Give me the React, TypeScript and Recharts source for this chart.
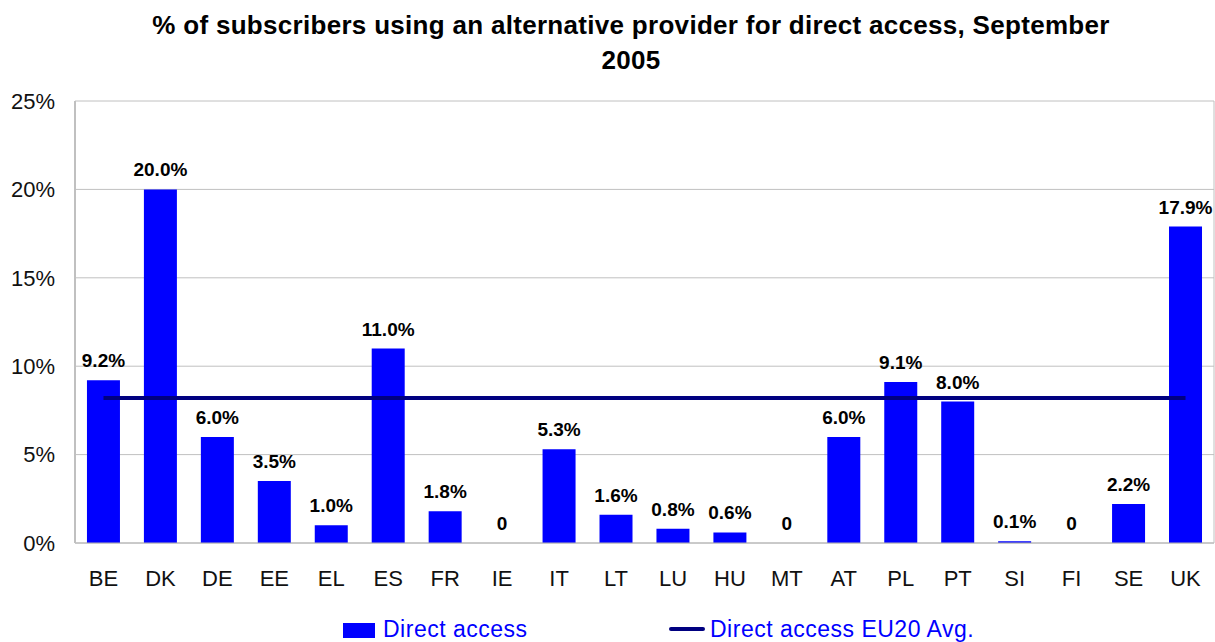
import React from 'react';
import {
  ComposedChart,
  Bar,
  Line,
  XAxis,
  YAxis,
  CartesianGrid,
  LabelList,
} from 'recharts';

const countries = ['BE', 'DK', 'DE', 'EE', 'EL', 'ES', 'FR', 'IE', 'IT', 'LT', 'LU', 'HU', 'MT', 'AT', 'PL', 'PT', 'SI', 'FI', 'SE', 'UK'];
const directAccess = [9.2, 20.0, 6.0, 3.5, 1.0, 11.0, 1.8, 0, 5.3, 1.6, 0.8, 0.6, 0, 6.0, 9.1, 8.0, 0.1, 0, 2.2, 17.9];
const euAverage = 8.2;
const yTicks = [0, 5, 10, 15, 20, 25];

const FONT = '"Liberation Sans", Arial, sans-serif';
const GRID = '#c0c0c0';

const chartData = countries.map((c, i) => ({
  country: c,
  value: directAccess[i],
  avg: euAverage,
}));

const fmtLabel = (v: any) => (Number(v) === 0 ? '0' : `${Number(v).toFixed(1)}%`);

export default function App() {
  return (
    <div
      style={{
        position: 'absolute',
        left: 0,
        top: 0,
        width: 1215,
        height: 642,
        fontFamily: FONT,
        background: '#fff',
        overflow: 'hidden',
      }}
    >
      <div
        style={{
          position: 'absolute',
          left: 40,
          top: 8,
          width: 1182,
          textAlign: 'center',
          fontWeight: 'bold',
          fontSize: 26,
          letterSpacing: 0.3,
          lineHeight: '35px',
          color: '#000',
        }}
      >
        % of subscribers using an alternative provider for direct access, September
        <br />
        2005
      </div>

      <ComposedChart
        width={1215}
        height={642}
        data={chartData}
        margin={{ top: 101, right: 0, bottom: 49, left: 0 }}
        barCategoryGap="21%"
      >
        <CartesianGrid vertical={false} stroke={GRID} strokeWidth={1} />
        <XAxis
          dataKey="country"
          interval={0}
          height={50}
          tickLine={false}
          tickMargin={21}
          axisLine={{ stroke: '#b4b4b4', strokeWidth: 1 }}
          tick={{ fill: '#111', fontSize: 22, fontFamily: FONT }}
        />
        <YAxis
          width={75}
          domain={[0, 25]}
          ticks={yTicks}
          tickFormatter={(v) => `${v}%`}
          tickLine={false}
          tickMargin={14}
          axisLine={{ stroke: GRID, strokeWidth: 2 }}
          tick={{ fill: '#111', fontSize: 22, fontFamily: FONT }}
        />
        <YAxis
          yAxisId="right"
          orientation="right"
          width={1}
          domain={[0, 25]}
          tick={false}
          tickLine={false}
          axisLine={{ stroke: GRID, strokeWidth: 1 }}
        />
        <Bar dataKey="value" fill="#0000ff" minPointSize={0.01} isAnimationActive={false}>
          <LabelList
            dataKey="value"
            position="top"
            offset={13}
            formatter={fmtLabel}
            style={{ fill: '#000', fontSize: 19, fontWeight: 'bold', fontFamily: FONT }}
          />
        </Bar>
        <Line
          type="linear"
          dataKey="avg"
          stroke="#000080"
          strokeWidth={4}
          dot={false}
          activeDot={false}
          isAnimationActive={false}
        />
      </ComposedChart>

      <div
        style={{
          position: 'absolute',
          top: 616,
          left: 0,
          width: 1215,
          height: 26,
          fontSize: 23,
          letterSpacing: 0.5,
          color: '#0000ff',
          lineHeight: '26px',
        }}
      >
        <span style={{ position: 'absolute', left: 343, top: 7, width: 32, height: 15, background: '#0000ff' }} />
        <span style={{ position: 'absolute', left: 383, top: 0, whiteSpace: 'nowrap' }}>Direct access</span>
        <span
          style={{
            position: 'absolute',
            left: 669,
            top: 11,
            width: 36,
            height: 4,
            borderRadius: 2,
            background: '#000080',
          }}
        />
        <span style={{ position: 'absolute', left: 710, top: 0, whiteSpace: 'nowrap' }}>Direct access EU20 Avg.</span>
      </div>
    </div>
  );
}
